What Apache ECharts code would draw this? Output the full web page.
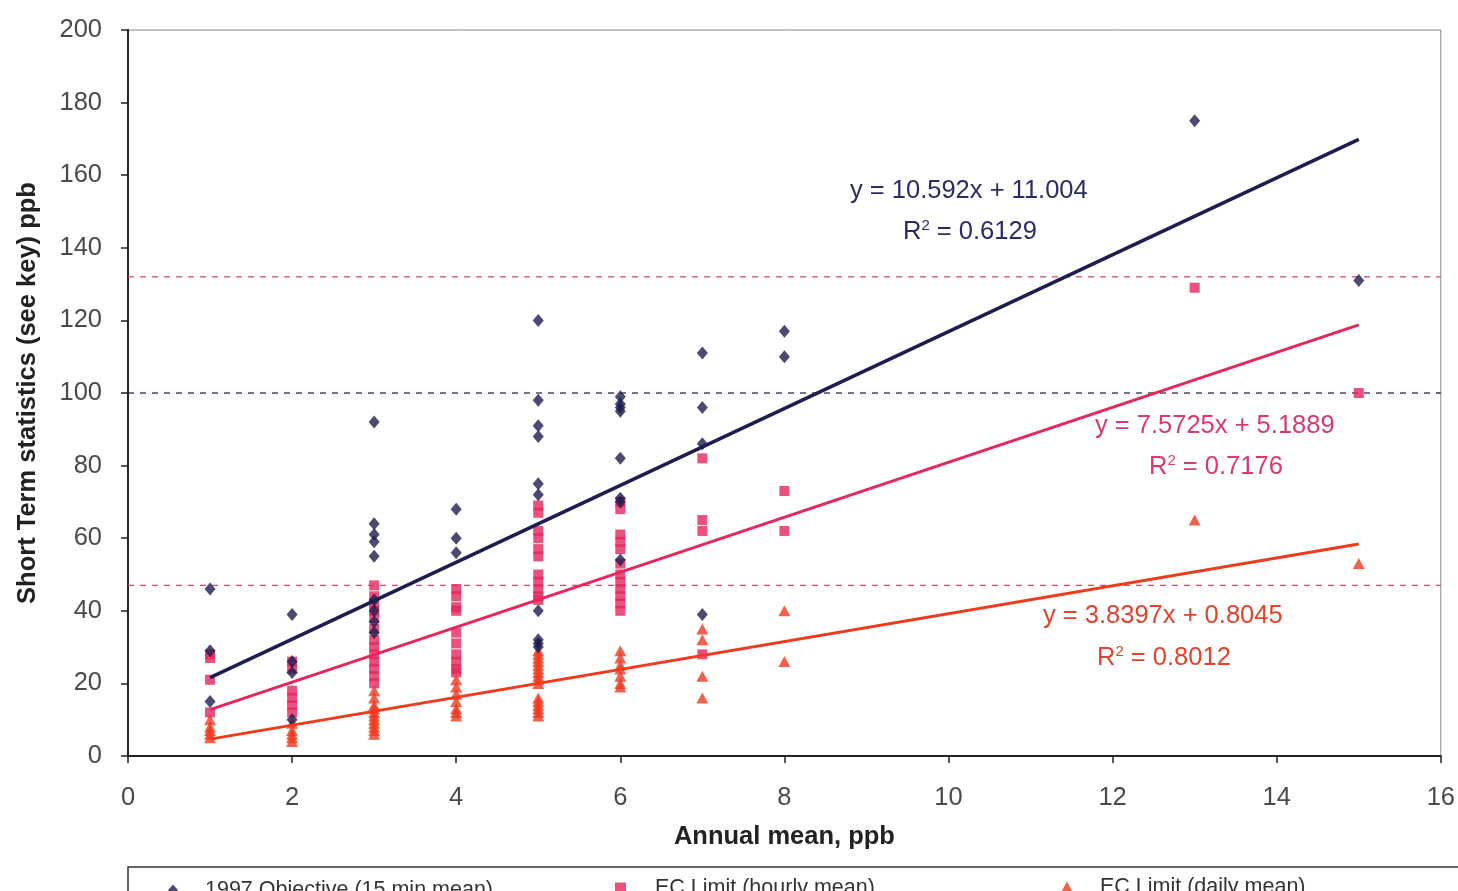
<!DOCTYPE html>
<html>
<head>
<meta charset="utf-8">
<title>Short term statistics vs annual mean</title>
<script src="https://cdn.jsdelivr.net/npm/echarts@6/dist/echarts.min.js"></script>
<style>
  html, body { margin: 0; padding: 0; background: #ffffff; }
  #chart { width: 1458px; height: 891px; }
</style>
</head>
<body>
<div id="chart"></div>
<script>
// Annual mean sites (ppb) and the short-term statistics measured at each
const xDiamond = [1,1,1, 2,2,2,2, 3,3,3,3,3,3,3,3,3, 4,4,4, 5,5,5,5,5,5,5,5,5,5, 6,6,6,6,6,6,6,6, 7,7,7,7, 8,8, 13, 15];
const objective15min = [46,29,15, 39,26,23,10, 92,64,61,59,55,43,40,37,34, 68,60,56, 120,98,91,88,75,72,40,32,31,30, 99,97,96,95,82,71,70,54, 111,96,86,39, 117,110, 175, 131];

const xSquare = [1,1,1,1, 2,2,2,2,2,2, 3,3,3,3,3,3,3,3,3,3,3,3,3, 4,4,4,4,4,4,4,4,4,4, 5,5,5,5,5,5,5,5,5,5,5, 6,6,6,6,6,6,6,6,6,6,6,6, 7,7,7,7, 8,8, 13, 15];
const hourlyMean = [28,27,21,12, 26,24,18,16,14,12, 47,44,42,40,38,35,32,30,28,26,24,22,20, 46,44,41,40,34,31,28,26,24,23, 69,67,62,60,57,55,50,48,46,44,43, 70,68,61,59,57,53,50,48,46,44,42,40, 82,65,62,28, 73,62, 129, 100];

const xTriangle = [1,1,1,1,1, 2,2,2,2,2, 3,3,3,3,3,3,3,3,3,3,3, 4,4,4,4,4,4,4, 5,5,5,5,5,5,5,5,5,5,5,5,5,5,5,5, 6,6,6,6,6,6,6, 7,7,7,7, 8,8, 13, 15];
const dailyMean = [10,8,7,6,5, 9,7,6,5,4, 18,16,14,13,12,11,10,9,8,7,6, 21,19,17,15,13,12,11, 29,28,27,26,25,24,23,22,21,20,16,15,14,13,12,11, 29,27,25,24,22,20,19, 35,32,22,16, 40,26, 65, 53];

// Linear trend coefficients and R² for each statistic
const slopes = [10.592, 7.5725, 3.8397];
const intercepts = ['11.004', '5.1889', '0.8045'];
const rSquared = ['0.6129', '0.7176', '0.8012'];
const trendRange = [1, 15];

// Limit values (ppb)
const limitHourly = 132;
const objective = 100;
const limitDaily = 47;

const xTicks = [0, 2, 4, 6, 8, 10, 12, 14, 16];
const yTicks = [0, 20, 40, 60, 80, 100, 120, 140, 160, 180, 200];

const seriesNames = ['1997 Objective (15 min mean)', 'EC Limit (hourly mean)', 'EC Limit (daily mean)'];

const NAVY = '#1d1d4f';
const CRIMSON = '#e6265c';
const ORANGE = '#ef3a1e';
const EQ_COLORS = ['#2b2b66', '#d83a6e', '#e2432a'];
const FONT = '"Liberation Sans", Arial, sans-serif';
const EQ_SIZE = 25.5;

function pairs(xs, ys) { return xs.map((x, i) => [x, ys[i]]); }
function trend(k) {
  return trendRange.map(x => [x, slopes[k] * x + parseFloat(intercepts[k])]);
}
function hline(v) { return [[0, v], [16, v]]; }

// trend equation and R² annotation for series k
function equationText(k, left, top) {
  return { type: 'text', left: left, top: top,
    style: { text: 'y = ' + slopes[k] + 'x + ' + intercepts[k], fill: EQ_COLORS[k],
             font: EQ_SIZE + 'px ' + FONT } };
}
function rSquaredText(k, left, top) {
  const c = EQ_COLORS[k];
  return { type: 'text', left: left, top: top,
    style: { text: '{r|R}{s|2}{r| = ' + rSquared[k] + '}', fill: c,
      rich: {
        r: { fontSize: EQ_SIZE, fontFamily: FONT, fill: c },
        s: { fontSize: 15, fontFamily: FONT, fill: c, verticalAlign: 'top', padding: [0, 0, 12, 0] }
      } } };
}

const chart = echarts.init(document.getElementById('chart'));

const option = {
  backgroundColor: '#ffffff',
  animation: false,
  textStyle: { fontFamily: FONT },
  grid: { left: 128, right: 17, top: 30, bottom: 135, show: true, borderColor: '#8a8a8a', borderWidth: 1 },
  xAxis: {
    type: 'value', min: xTicks[0], max: xTicks[xTicks.length - 1], interval: 2,
    name: 'Annual mean, ppb', nameLocation: 'middle', nameGap: 68,
    nameTextStyle: { fontSize: 25.5, fontWeight: 'bold', color: '#222', fontFamily: FONT },
    axisLine: { lineStyle: { color: '#222', width: 2 } },
    axisTick: { show: true, length: 7, lineStyle: { color: '#222', width: 1.5 } },
    axisLabel: { fontSize: 25.5, color: '#4a4a4a', margin: 29, fontFamily: FONT },
    splitLine: { show: false }
  },
  yAxis: {
    type: 'value', min: yTicks[0], max: yTicks[yTicks.length - 1], interval: 20,
    name: 'Short Term statistics (see key) ppb', nameLocation: 'middle', nameGap: 87,
    nameTextStyle: { fontSize: 25.5, fontWeight: 'bold', color: '#222', fontFamily: FONT },
    axisLine: { show: true, lineStyle: { color: '#222', width: 2 } },
    axisTick: { show: true, length: 7, lineStyle: { color: '#222', width: 1.5 } },
    axisLabel: { fontSize: 25.5, color: '#4a4a4a', margin: 26, fontFamily: FONT },
    splitLine: { show: false }
  },
  legend: [
    { data: [seriesNames[0]], left: 163, top: 874, itemWidth: 10, itemHeight: 11,
      textStyle: { fontSize: 21.5, color: '#333', fontFamily: FONT, padding: [0, 0, 0, 22] } },
    { data: [seriesNames[1]], left: 610, top: 872, itemWidth: 11, itemHeight: 11,
      textStyle: { fontSize: 21.5, color: '#333', fontFamily: FONT, padding: [0, 0, 0, 24] } },
    { data: [seriesNames[2]], left: 1056, top: 871, itemWidth: 12, itemHeight: 11,
      textStyle: { fontSize: 21.5, color: '#333', fontFamily: FONT, padding: [0, 0, 0, 22] } }
  ],
  graphic: [
    { type: 'rect', shape: { x: 128, y: 867, width: 1340, height: 40 },
      style: { fill: 'none', stroke: '#333', lineWidth: 1.5 }, z: -1 },
    equationText(0, 850, 178),
    rSquaredText(0, 903, 218),
    equationText(1, 1095, 413),
    rSquaredText(1, 1149, 453),
    equationText(2, 1043, 603),
    rSquaredText(2, 1097, 644)
  ],
  series: [
    // limit reference lines
    { type: 'line', data: hline(limitHourly), symbol: 'none', silent: true, z: 1,
      lineStyle: { color: '#c4506e', width: 1.3, type: [6, 6] } },
    { type: 'line', data: hline(objective), symbol: 'none', silent: true, z: 1,
      lineStyle: { color: '#2a2a55', width: 1.3, type: [6, 6] } },
    { type: 'line', data: hline(limitDaily), symbol: 'none', silent: true, z: 1,
      lineStyle: { color: '#c4506e', width: 1.3, type: [6, 6] } },
    // measured statistics
    { name: seriesNames[2], type: 'scatter', data: pairs(xTriangle, dailyMean), symbol: 'triangle', symbolSize: [12, 11],
      itemStyle: { color: ORANGE }, z: 3 },
    { name: seriesNames[1], type: 'scatter', data: pairs(xSquare, hourlyMean), symbol: 'rect', symbolSize: 10,
      itemStyle: { color: CRIMSON }, z: 3 },
    { name: seriesNames[0], type: 'scatter', data: pairs(xDiamond, objective15min), symbol: 'diamond', symbolSize: [11, 13],
      itemStyle: { color: NAVY }, z: 4 },
    // linear trends
    { type: 'line', data: trend(0), symbol: 'none', silent: true, z: 5, lineStyle: { color: NAVY, width: 3.5 } },
    { type: 'line', data: trend(1), symbol: 'none', silent: true, z: 5, lineStyle: { color: CRIMSON, width: 3 } },
    { type: 'line', data: trend(2), symbol: 'none', silent: true, z: 5, lineStyle: { color: ORANGE, width: 3 } }
  ]
};

chart.setOption(option);
</script>
</body>
</html>
